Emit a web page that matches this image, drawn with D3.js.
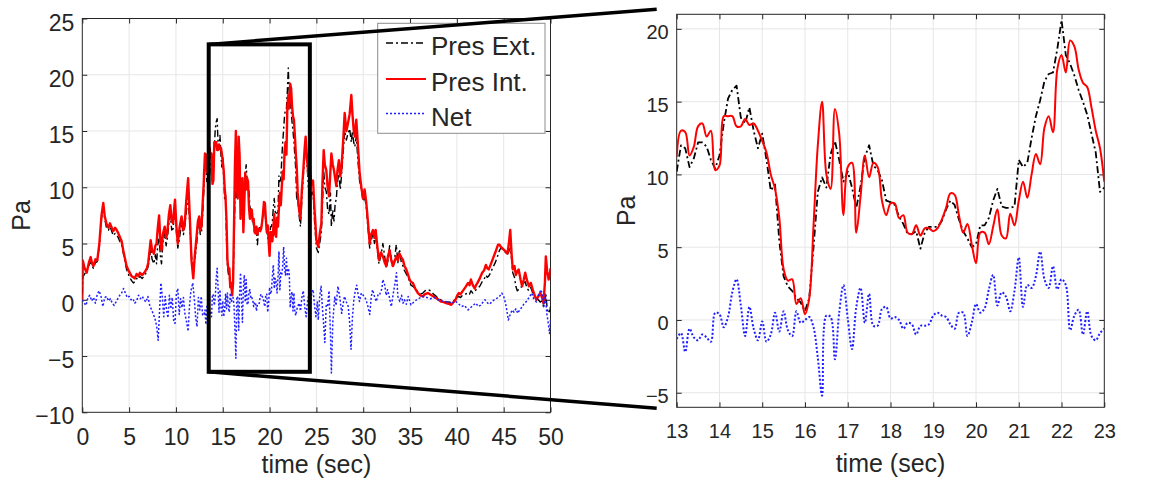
<!DOCTYPE html>
<html>
<head>
<meta charset="utf-8">
<script src="https://cdn.jsdelivr.net/npm/d3@7"></script>
<style>
  body { margin: 0; background: #fff; }
  svg { display: block; }
  text { font-family: 'Liberation Sans', Arial, sans-serif; fill: #262626; }
</style>
</head>
<body>
<svg id="fig" width="1174" height="491"></svg>
<script>
// ---- data (Pa) ----
// zoomed window 13..23 s, one value every 0.1 s
const zoomStart = 13, zoomStep = 0.1;
const zoomExt = [10.2,12.0,11.8,10.5,11.1,12.2,12.2,11.9,11.0,10.4,
  11.3,13.5,15.2,15.8,16.1,13.9,13.5,14.6,13.0,11.8,
  12.8,11.0,8.9,9.3,5.4,3.0,2.3,2.0,1.5,1.2,
  0.6,1.5,5.0,8.8,9.8,9.1,11.4,12.3,11.0,9.5,
  10.2,9.1,7.7,9.2,11.2,12.0,10.6,10.3,9.6,8.2,
  8.1,7.9,7.1,6.6,5.9,5.9,6.1,4.9,6.0,6.4,
  6.4,6.4,6.8,7.6,8.2,7.9,6.9,6.1,5.6,5.0,
  5.2,6.5,6.5,7.0,8.2,9.0,7.8,7.7,7.7,7.8,
  11.0,10.5,10.8,12.5,14.0,15.1,16.4,16.9,17.0,18.6,
  20.6,18.2,17.6,16.8,15.8,15.0,14.1,12.8,11.5,8.8,9.1];
const zoomInt = [11.2,13.0,12.9,11.3,11.9,13.3,13.5,12.6,13.0,10.3,
  10.6,14.0,14.0,14.0,13.3,13.3,13.8,13.4,13.5,13.0,
  12.3,11.5,10.0,9.0,7.0,3.5,2.7,2.8,1.1,1.5,
  0.4,1.5,6.5,12.0,15.0,10.0,9.0,14.5,12.8,7.2,
  10.5,10.8,6.0,8.5,11.3,9.8,10.8,10.5,8.2,7.2,
  8.0,8.0,7.0,7.2,6.0,5.9,6.5,5.8,6.3,6.3,
  6.1,6.3,6.9,7.7,8.7,8.6,7.2,6.0,6.6,5.2,
  3.9,6.0,6.0,5.2,6.4,7.6,5.8,5.6,7.3,6.5,
  8.2,9.5,8.4,10.0,11.4,10.7,13.2,14.0,12.9,17.2,
  18.2,17.0,19.2,18.8,17.2,16.3,16.0,14.6,13.0,11.8,9.5];
const zoomNet = [-1.3,-0.9,-2.2,-0.6,-1.2,-1.4,-1.0,-1.2,-1.5,0.5,
  0.4,-0.5,0.2,1.9,2.8,1.0,-1.1,0.9,-0.6,-1.4,
  -0.1,-1.5,-1.0,0.5,-0.8,0.6,-0.7,-1.1,0.6,-0.2,
  0.0,0.2,-0.5,-2.6,-5.2,0.3,0.2,-2.7,0.5,2.4,
  0.1,-2.0,0.9,2.2,-0.2,1.8,-0.4,-0.4,0.75,0.9,
  0.1,0.2,0.0,-0.6,-0.2,-0.3,-1.0,-0.4,-0.4,-0.3,
  0.3,0.5,0.3,0.2,-0.3,-0.6,0.5,0.5,-1.1,-0.2,
  1.1,0.5,0.8,2.1,3.1,1.0,1.9,1.6,0.6,2.0,
  4.3,0.9,2.4,2.2,3.0,4.7,2.8,2.2,3.7,2.1,
  2.8,2.4,-0.7,0.3,0.7,-1.0,0.6,-1.1,-1.4,-0.9,-0.6];

// rest of the 0..50 s record, [time, value]
const headExt = [[0,0.5],[0.05,2.0],[0.25,2.3],[0.47,2.6],[0.7,3.0],[0.89,3.4],[1.05,3.0],[1.18,2.8],[1.4,3.3],[1.6,3.4],[1.82,4.7],[2.05,7.2],[2.24,8.3],[2.4,7.2],[2.6,6.3],[2.8,6.2],[2.95,6.5],[3.1,6.2],[3.3,5.7],[3.5,5.9],[3.67,5.8],[3.85,5.5],[4.0,5.2],[4.2,4.9],[4.37,4.2],[4.55,3.4],[4.73,2.7],[5.0,2.1],[5.26,1.7],[5.45,1.5],[5.6,1.6],[5.8,1.9],[6.0,1.8],[6.15,2.1],[6.4,1.9],[6.7,2.2],[6.9,2.6],[7.04,3.0],[7.2,3.8],[7.3,4.6],[7.45,3.6],[7.65,3.2],[7.8,4.0],[7.93,3.2],[8.05,4.8],[8.2,5.5],[8.35,3.8],[8.46,3.2],[8.6,5.0],[8.8,6.0],[8.95,4.8],[9.07,5.4],[9.25,6.8],[9.4,7.5],[9.55,6.2],[9.7,6.3],[9.8,7.4],[9.9,8.0],[10.05,6.0],[10.2,4.6],[10.4,5.6],[10.6,6.8],[10.8,5.8],[10.96,6.6],[11.1,7.8],[11.3,9.2],[11.5,6.4],[11.66,3.9],[11.85,2.6],[12.0,3.5],[12.2,4.8],[12.35,6.4],[12.48,7.0],[12.6,5.8],[12.73,6.0],[12.85,7.5],[12.97,9.6]];
const headInt = [[0,0.0],[0.05,3.5],[0.25,2.8],[0.47,2.4],[0.7,3.3],[0.89,3.8],[1.05,3.2],[1.18,3.0],[1.4,3.6],[1.6,3.5],[1.82,5.0],[2.05,7.5],[2.24,8.6],[2.4,7.4],[2.6,6.7],[2.8,6.4],[2.95,6.8],[3.1,6.5],[3.3,6.1],[3.5,6.4],[3.67,6.2],[3.85,5.9],[4.0,5.6],[4.2,5.2],[4.37,4.4],[4.55,3.7],[4.73,3.0],[5.0,2.5],[5.26,2.1],[5.45,2.0],[5.6,1.9],[5.8,2.3],[6.0,2.1],[6.15,2.4],[6.4,2.2],[6.7,2.5],[6.9,2.8],[7.04,3.3],[7.2,4.5],[7.3,5.3],[7.45,4.4],[7.65,4.1],[7.8,4.8],[7.93,5.0],[8.05,6.3],[8.2,7.5],[8.35,5.0],[8.46,4.4],[8.6,5.8],[8.8,6.5],[8.95,5.5],[9.07,5.9],[9.25,7.6],[9.4,8.4],[9.55,7.0],[9.7,6.8],[9.8,8.0],[9.9,8.9],[10.05,6.5],[10.2,5.0],[10.4,6.5],[10.6,7.4],[10.8,6.2],[10.96,7.0],[11.1,8.8],[11.3,10.8],[11.5,7.0],[11.66,3.5],[11.85,1.9],[12.0,3.8],[12.2,5.6],[12.35,7.0],[12.48,7.4],[12.6,6.2],[12.73,6.5],[12.85,8.5],[12.97,10.4]];
const headNet = [[0,0.0],[0.2,-0.3],[0.4,-0.5],[0.6,0.2],[0.8,0.4],[1.0,-0.1],[1.2,0.2],[1.4,-0.3],[1.6,0.5],[1.8,0.8],[2.0,0.3],[2.2,-0.6],[2.4,0.2],[2.6,0.3],[2.8,-0.1],[3.0,0.1],[3.2,-0.3],[3.4,-0.5],[3.6,-0.2],[3.8,0.1],[4.0,0.4],[4.2,0.6],[4.4,1.0],[4.6,0.6],[4.8,0.2],[5.0,0.3],[5.2,0.0],[5.4,0.1],[5.6,-0.3],[5.8,-0.1],[6.0,0.4],[6.2,0.1],[6.4,0.3],[6.6,0.0],[6.8,-0.2],[7.0,0.3],[7.2,-0.5],[7.4,-0.9],[7.6,-1.3],[7.8,-1.8],[7.95,-2.4],[8.1,-3.6],[8.25,-1.0],[8.4,1.5],[8.55,0.2],[8.7,-1.5],[8.85,0.3],[9.0,-0.9],[9.15,-1.6],[9.3,0.4],[9.45,-0.8],[9.6,0.2],[9.75,-1.8],[9.9,-2.1],[10.05,0.6],[10.2,1.0],[10.35,-1.3],[10.5,0.1],[10.65,-0.7],[10.8,0.2],[10.95,-1.2],[11.1,-1.8],[11.3,-2.8],[11.45,-0.5],[11.6,0.8],[11.8,1.5],[11.95,0.2],[12.1,-1.5],[12.25,-2.4],[12.4,0.2],[12.55,-0.9],[12.7,0.3],[12.85,-1.4]];

const tailExt = [[23.15,7.5],[23.3,6.5],[23.45,9.0],[23.6,11.0],[23.75,12.8],[23.85,13.8],[24.0,12.0],[24.15,10.0],[24.3,10.8],[24.45,9.2],[24.64,9.6],[24.8,7.0],[25.0,4.6],[25.2,4.2],[25.35,5.0],[25.53,6.0],[25.65,8.5],[25.78,11.5],[25.9,10.0],[26.06,9.6],[26.2,8.0],[26.35,7.6],[26.5,9.5],[26.6,6.5],[26.75,8.0],[26.88,7.0],[27.0,8.5],[27.13,9.0],[27.25,10.5],[27.4,11.2],[27.55,9.8],[27.66,10.8],[27.85,13.0],[28.02,15.0],[28.2,14.2],[28.37,14.8],[28.55,15.2],[28.73,14.0],[28.85,15.0],[28.98,14.0],[29.1,13.6],[29.26,14.5],[29.45,12.2],[29.62,10.5],[29.8,9.8],[29.98,8.8],[30.15,9.2],[30.33,8.2],[30.5,6.5],[30.69,4.6],[30.85,5.2],[31.04,6.0],[31.2,5.0],[31.33,5.8],[31.5,4.5],[31.68,3.2],[31.9,4.0],[32.1,5.0],[32.3,3.8],[32.46,2.8],[32.65,3.5],[32.82,4.8],[33.0,3.6],[33.17,2.8],[33.35,3.6],[33.53,4.9],[33.7,3.3],[33.88,4.5],[34.05,3.4],[34.24,3.0],[34.4,2.6],[34.6,2.3],[34.8,2.0],[34.95,1.6],[35.1,1.3],[35.3,1.2],[35.55,1.0],[35.84,0.7],[36.1,0.5],[36.37,0.6],[36.6,0.8],[36.9,0.9],[37.2,0.8],[37.5,0.5],[37.8,0.3],[38.05,0.1],[38.3,0.0],[38.6,-0.1],[38.86,-0.2],[39.1,-0.2],[39.4,-0.3],[39.65,-0.1],[39.86,0.1],[40.05,0.2],[40.2,0.3],[40.4,0.2],[40.6,0.4],[40.9,0.5],[41.2,0.6],[41.35,0.5],[41.5,0.8],[41.7,0.6],[41.9,0.7],[42.05,0.9],[42.2,1.0],[42.45,1.2],[42.7,1.6],[42.9,1.8],[43.1,2.2],[43.25,2.0],[43.4,2.1],[43.6,2.4],[43.8,2.8],[44.1,3.3],[44.4,4.0],[44.55,4.4],[44.7,4.6],[44.95,4.5],[45.2,4.2],[45.4,4.0],[45.55,4.3],[45.7,4.6],[45.85,3.6],[45.97,2.4],[46.15,2.0],[46.3,1.2],[46.45,0.8],[46.6,0.9],[46.8,1.0],[46.97,1.3],[47.15,1.5],[47.3,1.6],[47.5,1.0],[47.7,0.8],[47.9,1.1],[48.1,0.6],[48.3,0.3],[48.5,0.1],[48.7,0.0],[48.9,-0.2],[49.1,-0.1],[49.25,-0.6],[49.4,0.0],[49.5,0.5],[49.65,-0.8],[49.8,-1.2],[49.95,-0.9],[50.0,-0.6]];
const tailInt = [[23.15,8.0],[23.3,7.2],[23.45,9.8],[23.6,11.5],[23.75,13.5],[23.85,14.5],[24.0,12.5],[24.15,11.0],[24.3,11.8],[24.45,10.2],[24.64,10.6],[24.8,8.0],[25.0,5.3],[25.2,4.7],[25.35,5.8],[25.53,6.8],[25.65,10.5],[25.78,13.3],[25.9,12.0],[26.06,11.5],[26.2,10.0],[26.35,9.2],[26.5,11.5],[26.6,13.0],[26.75,12.0],[26.88,11.5],[27.0,10.8],[27.13,10.1],[27.25,11.5],[27.4,12.4],[27.55,11.0],[27.66,11.5],[27.85,14.0],[28.02,16.6],[28.2,15.0],[28.37,15.7],[28.55,16.5],[28.73,18.2],[28.85,16.5],[28.98,15.1],[29.1,14.5],[29.26,16.0],[29.45,13.5],[29.62,11.2],[29.8,10.0],[29.98,9.0],[30.15,9.8],[30.33,8.6],[30.5,7.0],[30.69,5.0],[30.85,5.8],[31.04,6.2],[31.2,5.5],[31.33,6.2],[31.5,4.8],[31.68,3.55],[31.9,4.2],[32.1,3.85],[32.3,3.3],[32.46,3.0],[32.65,3.9],[32.82,4.4],[33.0,3.5],[33.17,3.0],[33.35,3.4],[33.53,3.85],[33.7,3.5],[33.88,4.1],[34.05,3.8],[34.24,3.55],[34.4,3.0],[34.6,2.7],[34.8,2.2],[34.95,1.8],[35.1,1.6],[35.3,1.5],[35.55,1.0],[35.84,0.6],[36.1,0.4],[36.37,0.3],[36.6,0.5],[36.9,0.6],[37.2,0.45],[37.5,0.3],[37.8,0.15],[38.05,0.0],[38.3,-0.15],[38.6,-0.2],[38.86,-0.3],[39.1,-0.35],[39.4,-0.45],[39.65,-0.2],[39.86,0.0],[40.05,0.4],[40.2,0.6],[40.4,0.5],[40.6,0.75],[40.9,1.1],[41.2,1.5],[41.35,1.3],[41.5,1.8],[41.7,1.3],[41.9,1.0],[42.05,1.3],[42.2,1.5],[42.45,1.9],[42.7,2.4],[42.9,2.6],[43.1,3.1],[43.25,2.8],[43.4,2.7],[43.6,3.1],[43.8,3.55],[44.1,4.2],[44.4,4.9],[44.55,4.9],[44.7,4.7],[44.95,4.5],[45.2,4.3],[45.4,4.1],[45.55,5.0],[45.7,6.2],[45.85,4.0],[45.97,2.7],[46.15,3.0],[46.3,2.2],[46.45,2.5],[46.6,2.7],[46.8,1.8],[46.97,1.2],[47.15,1.8],[47.3,2.4],[47.5,1.7],[47.7,1.2],[47.9,1.5],[48.1,0.9],[48.3,0.4],[48.5,0.0],[48.7,0.3],[48.9,0.6],[49.1,0.2],[49.25,-0.3],[49.4,1.5],[49.5,3.85],[49.65,2.5],[49.8,1.8],[49.95,2.4],[50.0,2.8]];
const tailNet = [[23.15,-0.3],[23.3,-1.0],[23.45,0.2],[23.6,0.8],[23.75,-0.6],[23.9,-1.5],[24.05,-0.2],[24.2,0.5],[24.35,-0.8],[24.5,0.6],[24.65,0.9],[24.8,-0.5],[24.95,-1.5],[25.1,-0.2],[25.2,-1.8],[25.35,0.3],[25.5,1.2],[25.65,-0.8],[25.8,-2.5],[25.9,-3.8],[26.05,-0.5],[26.2,-0.6],[26.35,0.8],[26.5,-3.0],[26.6,-6.5],[26.75,-2.0],[26.96,0.3],[27.1,-0.5],[27.3,1.2],[27.5,0.2],[27.7,-1.2],[27.85,-0.4],[28.0,0.3],[28.2,-0.2],[28.4,-0.6],[28.55,-2.0],[28.7,-4.4],[28.85,-1.5],[29.0,0.0],[29.15,0.8],[29.3,1.3],[29.45,0.5],[29.6,-0.15],[29.8,0.6],[30.1,0.3],[30.3,0.0],[30.5,-0.6],[30.7,-1.3],[30.85,0.2],[31.0,0.9],[31.2,0.3],[31.4,-0.15],[31.6,0.5],[31.75,0.45],[32.0,1.0],[32.1,1.8],[32.3,1.3],[32.45,0.4],[32.6,0.9],[32.8,0.2],[33.0,-0.6],[33.2,0.5],[33.4,1.5],[33.55,2.4],[33.7,0.3],[33.9,-0.15],[34.1,0.4],[34.25,-0.3],[34.4,0.0],[34.6,-0.4],[34.8,0.3],[35.1,-0.45],[35.4,-0.2],[35.7,0.0],[36.0,0.15],[36.4,0.3],[36.8,0.2],[37.2,0.1],[37.6,0.2],[38.0,0.0],[38.4,-0.1],[38.8,-0.2],[39.2,-0.2],[39.5,-0.3],[39.8,-0.1],[40.1,-0.3],[40.5,-0.6],[40.8,-0.5],[41.2,-0.9],[41.6,-0.6],[42.0,-0.3],[42.3,-0.6],[42.5,-0.5],[42.8,-0.2],[43.0,0.0],[43.3,-0.3],[43.5,-0.4],[43.8,-0.1],[44.0,0.0],[44.3,0.15],[44.55,0.3],[44.8,0.6],[45.0,0.3],[45.2,-0.3],[45.35,-1.0],[45.5,-1.8],[45.7,-1.3],[45.9,-0.9],[46.1,-1.1],[46.3,-0.8],[46.5,-1.2],[46.7,-0.9],[47.0,-0.6],[47.2,-0.3],[47.5,-0.1],[47.7,0.2],[48.0,0.6],[48.2,0.1],[48.5,-0.2],[48.7,0.4],[49.0,0.9],[49.15,0.3],[49.3,-0.6],[49.45,0.5],[49.6,-1.2],[49.75,-2.0],[49.9,-3.0],[50.0,-1.8]];

const leftXTicks = [0,5,10,15,20,25,30,35,40,45,50];
const leftYTicks = [-10,-5,0,5,10,15,20,25];
const rightXTicks = [13,14,15,16,17,18,19,20,21,22,23];
const rightYTicks = [-5,0,5,10,15,20];
const legendLabels = ["Pres Ext.", "Pres Int.", "Net"];
const zoomBox = {t0: 13.5, t1: 24.3, v0: -6.4, v1: 22.7};

// ---- helpers ----
const zoomed = arr => arr.map((v, i) => [zoomStart + i * zoomStep, v]);
const full = (head, arr, tail) => head.concat(zoomed(arr), tail);

const styles = {
  ext: {color: "#000", dash: "7,3,2,3"},
  int: {color: "#ff0000", dash: null},
  net: {color: "#1f1fff", dash: "2,2"}
};

const svg = d3.select("#fig");

const L = {x0: 82.3, x1: 550.5, y0: 18.5, y1: 412.3};
const R = {x0: 676.7, x1: 1104.3, y0: 14.3, y1: 407.3};

const xL = d3.scaleLinear().domain([0, 50]).range([L.x0, L.x1]);
const yL = d3.scaleLinear().domain([-10, 25]).range([L.y1, L.y0]);
const xR = d3.scaleLinear().domain([13, 23]).range([R.x0, R.x1]);
const yR = d3.scaleLinear().domain([-6, 21]).range([R.y1, R.y0]);

function panel(id, x, y, xt, yt, fs, labFs, yLabX, xLabY, labX, titleY) {
  const b = {x0: x.range()[0], x1: x.range()[1], y0: y.range()[1], y1: y.range()[0]};
  const g = svg.append("g").attr("id", id);

  // grid
  g.append("g").selectAll("line").data(xt.slice(1, -1)).join("line")
    .attr("x1", d => x(d)).attr("x2", d => x(d))
    .attr("y1", b.y0).attr("y2", b.y1)
    .attr("stroke", "#e6e6e6");
  g.append("g").selectAll("line").data(yt.filter(d => y(d) > b.y0 + 1 && y(d) < b.y1 - 1)).join("line")
    .attr("y1", d => y(d)).attr("y2", d => y(d))
    .attr("x1", b.x0).attr("x2", b.x1)
    .attr("stroke", "#e6e6e6");

  g.append("clipPath").attr("id", id + "-clip")
    .append("rect").attr("x", b.x0).attr("y", b.y0)
    .attr("width", b.x1 - b.x0).attr("height", b.y1 - b.y0);

  // axes with inward ticks on all four sides
  const ax = g.append("g").attr("class", "axes");
  ax.append("g").attr("transform", `translate(0,${b.y1})`)
    .call(d3.axisBottom(x).tickValues(xt).tickSize(-5).tickSizeOuter(0).tickPadding(xLabY))
    .call(s => s.selectAll("text").attr("font-size", fs));
  ax.append("g").attr("transform", `translate(0,${b.y0})`)
    .call(d3.axisTop(x).tickValues(xt).tickSize(-5).tickSizeOuter(0).tickFormat(""));
  ax.append("g").attr("transform", `translate(${b.x0},0)`)
    .call(d3.axisLeft(y).tickValues(yt).tickSize(-5).tickSizeOuter(0).tickPadding(yLabX))
    .call(s => s.selectAll("text").attr("font-size", fs).attr("dy", "0.5em"));
  ax.append("g").attr("transform", `translate(${b.x1},0)`)
    .call(d3.axisRight(y).tickValues(yt).tickSize(-5).tickSizeOuter(0).tickFormat(""));
  ax.selectAll(".domain").remove();
  ax.selectAll(".tick line").attr("stroke", "#262626");
  ax.selectAll(".tick text").attr("fill", "#262626").attr("font-family", null);

  g.append("rect").attr("x", b.x0).attr("y", b.y0)
    .attr("width", b.x1 - b.x0).attr("height", b.y1 - b.y0)
    .attr("fill", "none").attr("stroke", "#262626").attr("stroke-width", 1);

  g.append("text").attr("transform", `translate(${labX},${(b.y0 + b.y1) / 2}) rotate(-90)`)
    .attr("text-anchor", "middle").attr("font-size", 25).text("Pa");
  g.append("text").attr("x", (b.x0 + b.x1) / 2).attr("y", titleY)
    .attr("text-anchor", "middle").attr("font-size", labFs).text("time (sec)");
  return g;
}

function series(g, id, x, y, data, st, width, curve) {
  const line = d3.line().x(d => x(d[0])).y(d => y(d[1])).curve(curve);
  g.append("path").datum(data)
    .attr("clip-path", `url(#${id}-clip)`)
    .attr("d", line)
    .attr("fill", "none")
    .attr("stroke", st.color)
    .attr("stroke-width", width)
    .attr("stroke-dasharray", st.dash)
    .attr("stroke-linejoin", "round");
}

// ---- left: whole record ----
const gl = panel("left", xL, yL, leftXTicks, leftYTicks, 23, 25, 8, 16, 30, 473);
series(gl, "left", xL, yL, full(headExt, zoomExt, tailExt), styles.ext, 1.4, d3.curveLinear);
series(gl, "left", xL, yL, full(headInt, zoomInt, tailInt), styles.int, 2.4, d3.curveLinear);
series(gl, "left", xL, yL, full(headNet, zoomNet, tailNet), styles.net, 1.5, d3.curveLinear);

// legend
const lg = gl.append("g");
lg.append("rect").attr("x", 377.7).attr("y", 23.3).attr("width", 167.3).attr("height", 110)
  .attr("fill", "#fff").attr("stroke", "#8c8c8c").attr("stroke-width", 1);
const legendStyles = [styles.ext, styles.int, styles.net];
const legendY = [43, 79, 113.5];
legendLabels.forEach((lab, i) => {
  lg.append("line").attr("x1", 386).attr("x2", 426)
    .attr("y1", legendY[i]).attr("y2", legendY[i])
    .attr("stroke", legendStyles[i].color)
    .attr("stroke-width", i === 1 ? 2 : 1.6)
    .attr("stroke-dasharray", legendStyles[i].dash);
  lg.append("text").attr("x", 431).attr("y", legendY[i] + 12)
    .attr("font-size", 26).attr("fill", "#000").text(lab);
});

// ---- right: zoomed window ----
const gr = panel("right", xR, yR, rightXTicks, rightYTicks, 20, 25, 8, 17, 635, 472);
series(gr, "right", xR, yR, zoomed(zoomExt), styles.ext, 1.8, d3.curveLinear);
series(gr, "right", xR, yR, zoomed(zoomInt), styles.int, 2, d3.curveCatmullRom);
series(gr, "right", xR, yR, zoomed(zoomNet), styles.net, 2, d3.curveCatmullRom);

// ---- zoom box and connector lines ----
const bx0 = xL(zoomBox.t0), bx1 = xL(zoomBox.t1);
const by0 = yL(zoomBox.v1), by1 = yL(zoomBox.v0);
const ann = svg.append("g").attr("stroke", "#000").attr("fill", "none");
ann.append("rect").attr("x", bx0).attr("y", by0)
  .attr("width", bx1 - bx0).attr("height", by1 - by0).attr("stroke-width", 4);
ann.append("line").attr("x1", bx0).attr("y1", by0)
  .attr("x2", R.x0 - 20).attr("y2", R.y0 - 5).attr("stroke-width", 3.5);
ann.append("line").attr("x1", bx0).attr("y1", by1)
  .attr("x2", R.x0 - 20).attr("y2", R.y1 + 1).attr("stroke-width", 3.5);
</script>
</body>
</html>
